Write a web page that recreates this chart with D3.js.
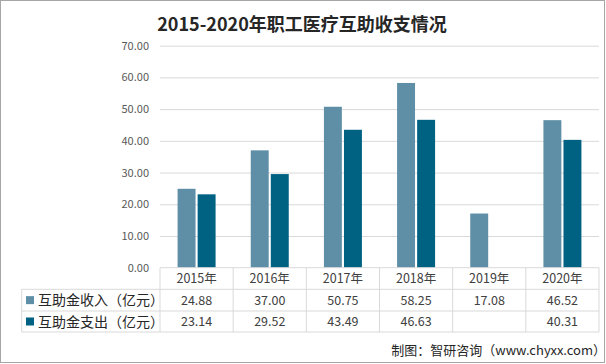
<!DOCTYPE html>
<html><head><meta charset="utf-8">
<script src="https://cdn.jsdelivr.net/npm/d3@7"></script>
<style>body{margin:0;background:#fff}svg{display:block}text{font-family:"Noto Sans CJK SC","DejaVu Sans",sans-serif}</style>
</head><body><svg id="c" width="606" height="364"></svg>
<script>
const categories = ["2015年","2016年","2017年","2018年","2019年","2020年"];
const seriesNames = ["互助金收入（亿元）","互助金支出（亿元）"];
const income = [24.88,37.00,50.75,58.25,17.08,46.52];
const expense = [23.14,29.52,43.49,46.63,null,40.31];
const yTicks = [0,10,20,30,40,50,60,70];
const colors = ["#5e8fa7","#006283"];

const svg = d3.select("#c");
svg.append("rect").attr("x",0.5).attr("y",0.5).attr("width",604).attr("height",362)
  .attr("fill","#fff").attr("stroke","#a6a6a6");

const L=160,R=599,T=45.7,B=267.7;
const x = d3.scaleBand().domain(categories).range([L,R]);
const y = d3.scaleLinear().domain([0,70]).range([B,T]);
const xs = d3.scaleBand().domain([0,1]).range([0,38]).paddingInner(4/38);

svg.append("text").attr("x",302).attr("y",31).attr("text-anchor","middle")
  .attr("font-size",18).attr("font-weight","bold").attr("fill","#262626")
  .text("2015-2020年职工医疗互助收支情况");

// grid
const yAxis = d3.axisLeft(y).tickValues(yTicks).tickFormat(d3.format(".2f")).tickSize(-(R-L)).tickPadding(11);
const ga = svg.append("g").attr("transform",`translate(${L},0)`).call(yAxis);
ga.select(".domain").remove();
ga.selectAll(".tick line").attr("stroke","#d9d9d9");
ga.selectAll(".tick text").attr("fill","#595959").attr("font-size",11).attr("font-family","'DejaVu Sans',sans-serif");
ga.selectAll(".tick").filter(d=>d===0).select("line").remove();

const data=[income,expense];
data.forEach((vals,si)=>{
  svg.append("g").selectAll("rect").data(categories.map((c,i)=>({c,v:vals[i]})).filter(d=>d.v!=null))
   .join("rect")
   .attr("x",d=>x(d.c)+(x.bandwidth()-38)/2+xs(si))
   .attr("width",xs.bandwidth())
   .attr("y",d=>y(d.v)).attr("height",d=>B-y(d.v))
   .attr("fill",colors[si]);
});

// table
const rowY=[B,289.3,311,332];
const tg = svg.append("g");
const line=(x1,y1,x2,y2)=>tg.append("line").attr("x1",x1).attr("y1",y1).attr("x2",x2).attr("y2",y2).attr("stroke","#d9d9d9");
line(L,rowY[0],R,rowY[0]);
line(21.7,rowY[1],R,rowY[1]);
line(21.7,rowY[2],R,rowY[2]);
line(21.7,rowY[3],R,rowY[3]);
line(21.7,rowY[1],21.7,rowY[3]);
categories.forEach(c=>line(x(c),rowY[0],x(c),rowY[3]));
line(R,rowY[0],R,rowY[3]);

tg.selectAll("text.cat").data(categories).join("text")
  .attr("x",d=>x(d)+x.bandwidth()/2).attr("y",(rowY[0]+rowY[1])/2+4.5)
  .attr("text-anchor","middle").attr("font-size",12.5).attr("fill","#404040").text(d=>d);

data.forEach((vals,si)=>{
  const yc=(rowY[si+1]+rowY[si+2])/2;
  tg.append("rect").attr("x",26).attr("y",yc-4).attr("width",8).attr("height",8).attr("fill",colors[si]);
  tg.append("text").attr("x",38).attr("y",yc+5).attr("font-size",14).attr("fill","#262626").text(seriesNames[si]);
  tg.selectAll(null).data(categories.map((c,i)=>({c,v:vals[i]})).filter(d=>d.v!=null)).join("text")
    .attr("x",d=>x(d.c)+x.bandwidth()/2).attr("y",yc+4.5).attr("text-anchor","middle")
    .attr("font-size",12.5).attr("fill","#404040").attr("font-family","'DejaVu Sans',sans-serif")
    .text(d=>d.v.toFixed(2));
});

svg.append("text").attr("x",606).attr("y",355).attr("text-anchor","end")
  .attr("font-size",13).attr("fill","#262626").text("制图：智研咨询（www.chyxx.com）");
</script></body></html>
